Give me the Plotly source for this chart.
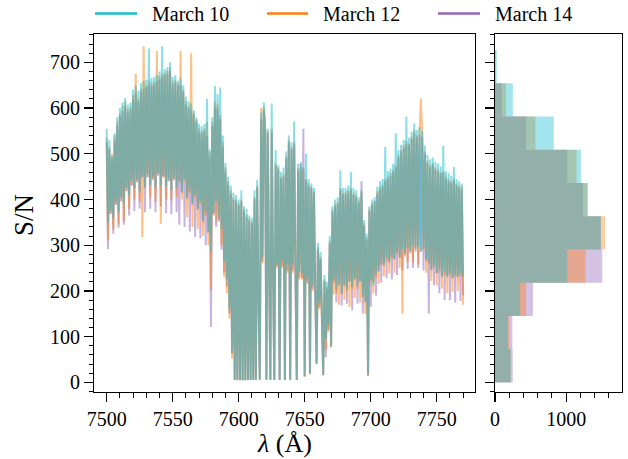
import plotly.graph_objects as go

# ---------------- data ----------------
# S/N spectra, one value per Angstrom from 7500 to 7770
wavelength = list(range(7500, 7771))

sn_march10 = [
    555, 350, 530, 375, 495, 360, 545, 395, 580, 372,   # 7500
    600, 405, 612, 390, 622, 425, 608, 410, 612, 440,   # 7510
    640, 425, 650, 445, 638, 418, 655, 450, 660, 428,   # 7520
    662, 455, 730, 432, 665, 450, 668, 425, 672, 458,   # 7530
    680, 430, 735, 452, 685, 428, 690, 445, 700, 420,   # 7540
    668, 448, 672, 425, 660, 440, 665, 418, 650, 445,   # 7550
    625, 405, 615, 420, 610, 392, 595, 410, 580, 380,   # 7560
    565, 395, 560, 355, 565, 372, 620, 330, 510, 285,   # 7570
    580, 372, 648, 395, 630, 360, 645, 335, 540, 265,   # 7580
    480, 225, 450, 160, 430, 70, 415, 6, 410, 5,        # 7590
    400, 5, 420, 4, 385, 6, 380, 5, 365, 6,             # 7600
    360, 6, 420, 5, 442, 195, 7, 590, 275, 612,         # 7610
    565, 7, 555, 262, 6, 610, 252, 5, 508, 258,         # 7620
    475, 6, 460, 268, 470, 5, 505, 258, 540, 6,         # 7630
    525, 258, 571, 252, 6, 478, 242, 482, 238, 470,     # 7640
    14, 500, 228, 445, 20, 435, 212, 425, 202, 42,      # 7650
    305, 175, 285, 155, 17, 235, 95, 220, 125, 320,     # 7660
    80, 385, 225, 400, 205, 405, 215, 464, 195, 425,    # 7670
    215, 425, 205, 430, 222, 460, 210, 425, 228, 420,   # 7680
    212, 405, 222, 420, 190, 355, 178, 325, 18, 385,    # 7690
    225, 400, 212, 405, 238, 428, 245, 440, 262, 445,   # 7700
    258, 515, 272, 462, 265, 468, 275, 478, 268, 545,   # 7710
    285, 508, 275, 520, 292, 530, 282, 581, 295, 535,   # 7720
    285, 548, 300, 566, 290, 552, 298, 558, 288, 550,   # 7730
    292, 518, 268, 498, 262, 488, 248, 492, 255, 482,   # 7740
    240, 478, 248, 472, 235, 518, 242, 462, 230, 458,   # 7750
    240, 452, 228, 471, 236, 445, 230, 440, 238, 435, 232,  # 7760-7770
]

sn_march12 = [
    535, 312, 515, 370, 500, 335, 540, 390, 570, 345,   # 7500
    588, 400, 605, 352, 615, 420, 598, 380, 603, 432,   # 7510
    628, 400, 675, 440, 622, 395, 642, 318, 735, 425,   # 7520
    650, 450, 660, 405, 655, 445, 658, 395, 725, 455,   # 7530
    670, 347, 675, 450, 678, 400, 682, 440, 690, 398,   # 7540
    660, 445, 662, 405, 655, 438, 725, 400, 640, 440,   # 7550
    615, 360, 605, 415, 720, 340, 590, 405, 575, 335,   # 7560
    555, 390, 550, 320, 555, 365, 570, 300, 505, 202,   # 7570
    570, 368, 615, 350, 610, 355, 585, 300, 525, 230,   # 7580
    470, 195, 440, 140, 420, 52, 405, 5, 400, 4,        # 7590
    392, 4, 400, 5, 378, 4, 368, 6, 358, 5,             # 7600
    352, 5, 405, 6, 430, 170, 6, 600, 260, 602,         # 7610
    560, 6, 550, 245, 5, 555, 240, 6, 480, 250,         # 7620
    470, 5, 450, 250, 455, 6, 495, 240, 530, 5,         # 7630
    515, 240, 525, 235, 5, 468, 225, 478, 225, 465,     # 7640
    12, 445, 215, 435, 18, 428, 200, 418, 190, 40,      # 7650
    295, 160, 275, 140, 15, 225, 70, 210, 110, 310,     # 7660
    76, 378, 192, 390, 195, 395, 170, 425, 192, 415,    # 7670
    180, 418, 200, 420, 165, 425, 205, 415, 185, 410,   # 7680
    205, 398, 175, 415, 185, 348, 150, 318, 15, 380,    # 7690
    220, 392, 195, 398, 230, 418, 215, 428, 255, 432,   # 7700
    232, 445, 265, 450, 238, 458, 270, 465, 240, 475,   # 7710
    280, 498, 250, 508, 150, 518, 275, 528, 262, 522,   # 7720
    282, 538, 262, 552, 285, 540, 258, 548, 621, 542,   # 7730
    288, 505, 240, 485, 258, 475, 222, 480, 250, 470,   # 7740
    212, 465, 240, 460, 205, 462, 235, 450, 195, 445,   # 7750
    235, 440, 198, 445, 230, 435, 200, 430, 232, 428, 170,  # 7760-7770
]

sn_march14 = [
    525, 292, 510, 368, 490, 325, 530, 388, 560, 338,   # 7500
    582, 395, 594, 345, 604, 418, 590, 365, 596, 430,   # 7510
    620, 375, 632, 438, 615, 380, 636, 448, 642, 372,   # 7520
    645, 448, 650, 380, 648, 442, 652, 372, 660, 452,   # 7530
    662, 385, 668, 448, 672, 370, 675, 440, 680, 368,   # 7540
    652, 442, 655, 372, 648, 345, 650, 415, 635, 340,   # 7550
    608, 402, 600, 330, 595, 388, 585, 318, 570, 378,   # 7560
    548, 315, 545, 350, 550, 300, 540, 328, 495, 121,   # 7570
    560, 365, 600, 340, 600, 352, 575, 290, 515, 240,   # 7580
    462, 210, 432, 150, 412, 62, 400, 5, 395, 6,        # 7590
    388, 6, 395, 4, 372, 5, 362, 4, 352, 5,             # 7600
    348, 6, 400, 5, 425, 180, 5, 575, 265, 595,         # 7610
    552, 5, 545, 250, 6, 548, 245, 5, 475, 255,         # 7620
    465, 6, 445, 255, 450, 5, 490, 245, 525, 6,         # 7630
    510, 245, 520, 240, 5, 462, 230, 470, 228, 555,     # 7640
    13, 440, 220, 430, 19, 425, 205, 415, 195, 41,      # 7650
    290, 165, 270, 145, 16, 220, 55, 205, 115, 305,     # 7660
    78, 372, 218, 385, 175, 390, 212, 420, 168, 410,    # 7670
    210, 412, 172, 415, 220, 420, 158, 410, 225, 405,   # 7680
    172, 392, 220, 440, 150, 342, 175, 312, 14, 375,    # 7690
    165, 388, 220, 395, 190, 412, 242, 422, 218, 428,   # 7700
    255, 440, 228, 445, 262, 452, 225, 460, 270, 470,   # 7710
    235, 492, 272, 502, 245, 512, 280, 522, 248, 518,   # 7720
    288, 532, 250, 545, 295, 535, 250, 540, 285, 538,   # 7730
    245, 500, 265, 480, 150, 470, 245, 475, 212, 465,   # 7740
    238, 460, 195, 455, 230, 458, 180, 445, 232, 440,   # 7750
    180, 435, 228, 440, 175, 430, 232, 425, 178, 420, 190,  # 7760-7770
]

# Histogram of S/N (10 bins), counts per bin from bottom to top
hist_edges = [0, 72.7, 145.4, 218.1, 290.8, 363.5, 436.2, 508.9, 581.6, 654.3, 727.0]
hist_march10 = [221, 183, 352, 1014, 1488, 1296, 1207, 826, 250, 24]
hist_march12 = [222, 202, 437, 1272, 1545, 1305, 1146, 568, 155, 6]
hist_march14 = [249, 244, 535, 1507, 1485, 1235, 1014, 437, 94, 4]

labels = ["March 10", "March 12", "March 14"]

# ---------------- styling ----------------
rgb = {
    "March 10": (23, 190, 207),
    "March 12": (255, 127, 14),
    "March 14": (148, 103, 189),
}
FONT = "Liberation Serif"

spectra = {"March 10": sn_march10, "March 12": sn_march12, "March 14": sn_march14}
hists = {"March 10": hist_march10, "March 12": hist_march12, "March 14": hist_march14}

centers = [(hist_edges[i] + hist_edges[i + 1]) / 2 for i in range(len(hist_edges) - 1)]
widths = [hist_edges[i + 1] - hist_edges[i] for i in range(len(hist_edges) - 1)]

fig = go.Figure()

# draw in reverse order so March 10 ends on top
for lab in reversed(labels):
    r, g, b = rgb[lab]
    fig.add_trace(go.Scatter(
        x=wavelength, y=spectra[lab], mode="lines",
        line=dict(color=f"rgba({r},{g},{b},0.5)", width=2.0, simplify=False),
        showlegend=False, hoverinfo="skip", xaxis="x", yaxis="y"))

for lab in reversed(labels):
    r, g, b = rgb[lab]
    fig.add_trace(go.Bar(
        y=centers, x=hists[lab], orientation="h", width=widths,
        marker=dict(color=f"rgba({r},{g},{b},0.4)", line=dict(width=0)),
        showlegend=False, hoverinfo="skip", xaxis="x2", yaxis="y2"))

# ---------------- layout (pixel geometry of the reference) ----------------
W, H = 628, 459
L, R, T, B = 94, 6, 34, 67          # plot-area margins in px
PW, PH = W - L - R, H - T - B


def px(xp):
    return (xp - L) / PW


def py(yp):
    return (H - B - yp) / PH


xdom1 = [0, px(475)]
xdom2 = [px(495), 1]

common = dict(
    showline=True, linecolor="black", linewidth=1, mirror=True,
    showgrid=False, zeroline=False, ticks="outside", ticklen=9,
    tickwidth=1.2, tickcolor="black", automargin=False,
    tickfont=dict(family=FONT, size=20, color="black"),
)
minor_common = dict(ticks="outside", ticklen=4.5, tickwidth=1, tickcolor="black", showgrid=False)

# manual legend (opaque handles)
shapes, annotations = [], []
legend_line_x = [(95, 137), (267, 308), (438, 480)]
legend_text_x = [150, 321, 493]
for lab, (x0, x1), xt in zip(labels, legend_line_x, legend_text_x):
    r, g, b = rgb[lab]
    shapes.append(dict(type="line", xref="paper", yref="paper",
                       x0=px(x0), x1=px(x1), y0=py(13.5), y1=py(13.5),
                       line=dict(color=f"rgb({r},{g},{b})", width=2.5)))
    annotations.append(dict(text=lab, x=px(xt), y=py(14), xref="paper", yref="paper",
                            showarrow=False, xanchor="left", yanchor="middle",
                            font=dict(family=FONT, size=20, color="black")))

annotations.append(dict(text="S/N", x=px(24), y=py(215), xref="paper", yref="paper",
                        textangle=-90, showarrow=False,
                        font=dict(family=FONT, size=27, color="black"),
                        xanchor="center", yanchor="middle"))
annotations.append(dict(text="<i>λ</i> (Å)", x=px(284.5), y=py(443), xref="paper", yref="paper",
                        showarrow=False, font=dict(family=FONT, size=26, color="black"),
                        xanchor="center", yanchor="middle"))

fig.update_layout(
    width=W, height=H,
    margin=dict(l=L, r=R, t=T, b=B, autoexpand=False),
    plot_bgcolor="white", paper_bgcolor="white",
    barmode="overlay",
    font=dict(family=FONT, size=20, color="black"),
    showlegend=False,
    xaxis=dict(domain=xdom1, range=[7490.4, 7779], anchor="y",
               tickmode="linear", tick0=7500, dtick=50,
               minor=dict(dtick=10, tick0=7500, **minor_common), **common),
    yaxis=dict(domain=[0, 1], range=[-21, 762], anchor="x",
               tickmode="linear", tick0=0, dtick=100,
               minor=dict(dtick=20, tick0=0, **minor_common), **common),
    xaxis2=dict(domain=xdom2, range=[0, 1784], anchor="y2",
                tickmode="linear", tick0=0, dtick=1000,
                minor=dict(dtick=200, tick0=0, **minor_common), **common),
    yaxis2=dict(domain=[0, 1], range=[-21, 762], anchor="x2", matches="y",
                tickmode="linear", tick0=0, dtick=100, showticklabels=False,
                minor=dict(dtick=20, tick0=0, **minor_common), **common),
    shapes=shapes,
    annotations=annotations,
)

fig.write_html("out.html",
               config={"displayModeBar": False, "staticPlot": True},
               post_script="document.body.style.margin='0px';document.body.style.overflow='hidden';")
